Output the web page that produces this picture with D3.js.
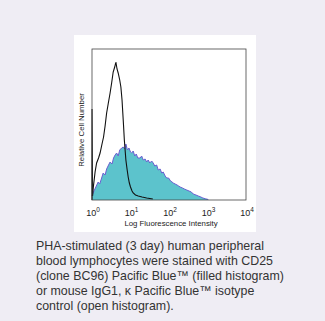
<!DOCTYPE html>
<html><head><meta charset="utf-8">
<script src="https://cdn.jsdelivr.net/npm/d3@7"></script>
<style>
html,body{margin:0;padding:0;}
body{width:325px;height:321px;background:#efedf4;overflow:hidden;}
</style></head><body>
<svg id="c" width="325" height="321"></svg>
<script>
// Data: x in log10 decades, y relative counts
const xTicks = [0, 1, 2, 3, 4];
const filledLog = [0.00,0.05,0.10,0.16,0.20,0.25,0.29,0.34,0.38,0.43,0.47,0.52,0.56,0.60,0.64,0.68,0.72,0.77,0.81,0.85,0.88,0.92,0.96,1.00,1.03,1.07,1.11,1.15,1.19,1.25,1.29,1.33,1.38,1.42,1.46,1.50,1.55,1.59,1.63,1.68,1.72,1.77,1.81,1.85,1.90,1.94,1.99,2.04,2.08,2.11,2.16,2.21,2.25,2.29,2.35,2.40,2.46,2.52,2.58,2.63,2.70,2.76,2.81,2.88,2.95,3.02];
const filledVal = [4,9,13,18,16,22,27,25,31,35,38,36,42,45,47,44,50,52,53,51,56,50,52,48,47,49,44,46,42,42,44,40,41,38,40,37,39,37,34,35,30,31,27,28,24,22,22,19,18,17,16,15,14,13,12,11,10,9,8,6,5,4,3.3,2,1.2,0.5];
const openLog = [0.00,0.001,0.015,0.035,0.08,0.12,0.17,0.21,0.26,0.30,0.34,0.38,0.42,0.47,0.51,0.55,0.59,0.62,0.65,0.68,0.72,0.75,0.78,0.80,0.82,0.84,0.86,0.88,0.91,0.94,0.97,1.00,1.04,1.07,1.13,1.20,1.30,1.42,1.50,1.58];
const openVal = [0,91,4,13,28,37,42,47,56,63,74,87,96,107,117,128,133,138,131,127,120,113,100,87,74,60,50,40,31,23,17,13,9,7,5,4,3,2,1.5,1];
const yMax = 151;

const svg = d3.select('#c');
// white panel
svg.append('rect').attr('x',74).attr('y',35).attr('width',182).attr('height',197).attr('fill','#fff');

const x = d3.scaleLinear().domain([0,4]).range([92,246]);
const y = d3.scaleLinear().domain([0,yMax]).range([200,49]);

const filled = filledLog.map((d,i)=>[d,filledVal[i]]);
const open = openLog.map((d,i)=>[d,openVal[i]]);

svg.append('path').datum(filled)
  .attr('d', d3.area().x(d=>x(d[0])).y0(y(0)).y1(d=>y(d[1])))
  .attr('fill','#5cc3cc');
svg.append('path').datum(filled)
  .attr('d', d3.line().x(d=>x(d[0])).y(d=>y(d[1])))
  .attr('fill','none').attr('stroke','#6b5fd0').attr('stroke-width',1);
svg.append('path').datum(open)
  .attr('d', d3.line().x(d=>x(d[0])).y(d=>y(d[1])))
  .attr('fill','none').attr('stroke','#111').attr('stroke-width',1.1);

// frame
svg.append('rect').attr('x',92).attr('y',49).attr('width',154).attr('height',151)
  .attr('fill','none').attr('stroke','#444').attr('stroke-width',0.8);

// x ticks labels
const tl = svg.append('g').attr('font-family','Liberation Sans, Arial, sans-serif').attr('fill','#222');
xTicks.forEach(t=>{
  const tx = tl.append('text').attr('x',x(t)+1).attr('y',215.5).attr('text-anchor','middle').attr('font-size',9);
  tx.append('tspan').text('10');
  tx.append('tspan').attr('font-size',6.5).attr('dy',-4).text(t);
});
tl.append('text').attr('x',171).attr('y',225.5).attr('text-anchor','middle').attr('font-size',7.8).text('Log Fluorescence Intensity');
tl.append('text').attr('transform','translate(83.5,130) rotate(-90)').attr('text-anchor','middle').attr('font-size',7.8).text('Relative Cell Number');

// caption
const cap = ['PHA-stimulated (3 day) human peripheral','blood lymphocytes were stained with CD25','(clone BC96) Pacific Blue\u2122 (filled histogram)','or mouse IgG1, \u03ba Pacific Blue\u2122 isotype','control (open histogram).'];
const cg = svg.append('g').attr('font-family','Liberation Sans, Arial, sans-serif').attr('font-size',12.4).attr('fill','#333');
cap.forEach((s,i)=>cg.append('text').attr('x',36).attr('y',249.5+i*15).text(s));
</script>
</body></html>
